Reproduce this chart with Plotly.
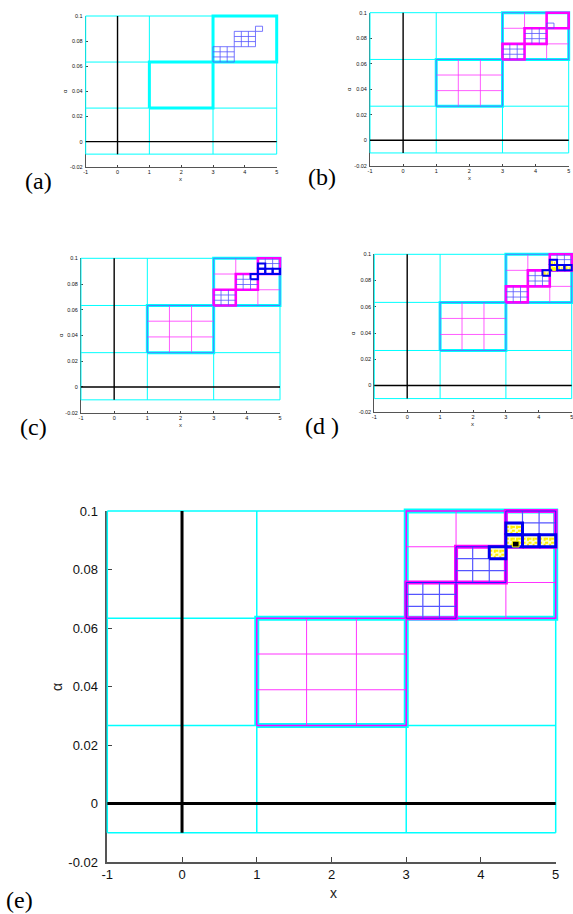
import plotly.graph_objects as go

# ---------------- data ----------------
x_edges_L0 = [-1, 1, 3, 5]
y_edges_L0 = [-0.01, 0.026667, 0.063333, 0.1]
refine_ratio = 3
L1_boxes = [[1.0, 3.0, 0.026667, 0.063333],
            [3.0, 5.0, 0.063333, 0.1]]
L2_boxes = [[3.0, 3.666667, 0.063333, 0.075556],
            [3.666667, 4.333333, 0.075556, 0.087778],
            [4.333333, 5.0, 0.087778, 0.1]]
flag_cells = [[4.333333, 4.555556, 0.087778, 0.091852]]
L3_boxes = [[4.111111, 4.333333, 0.083704, 0.087778],
            [4.333333, 4.555556, 0.087778, 0.091852],
            [4.333333, 4.555556, 0.091852, 0.095926],
            [4.555556, 4.777778, 0.087778, 0.091852],
            [4.777778, 5.0, 0.087778, 0.091852]]
L4_boxes = [[4.42, 4.51, 0.0877, 0.0897]]
x_ticks = [-1, 0, 1, 2, 3, 4, 5]
x_ticktext = ['-1', '0', '1', '2', '3', '4', '5']
y_ticks = [-0.02, 0, 0.02, 0.04, 0.06, 0.08, 0.1]
y_ticktext = ['-0.02', '0', '0.02', '0.04', '0.06', '0.08', '0.1']
x_range = [-1, 5]
y_range = [-0.02, 0.1]
panel_labels = ['(a)', '(b)', '(c)', '(d )', '(e)']
x_title = 'x'
y_title = 'α'

# ---------------- layout geometry (pixels) ----------------
W, H = 573, 914
boxes_px = [
    (85.7, 276.7, 16.0, 166.7),
    (370.0, 568.7, 12.7, 165.7),
    (81.0, 280.0, 258.3, 412.7),
    (374.3, 571.7, 254.3, 411.7),
    (107.3, 555.7, 511.0, 862.0),
]
label_pos = [(38, 181), (322, 177), (33, 427), (322, 426), (19, 900)]
xtitle_pos = [(180, 179), (469, 178), (180, 425), (472, 424), (333, 893)]
ytitle_pos = [(65, 91), (349, 89), (61, 335), (353, 333), (57, 687)]

panel_cfg = [
    dict(l1_inner=False, l1_overlay=None, l2=False, blue=[0, 1], flag=True, l3=False, yellow=False, l4=None),
    dict(l1_inner=True, l1_overlay='#4f7fff', l2=True, blue=[0, 1], flag=True, l3=False, yellow=False, l4=None),
    dict(l1_inner=True, l1_overlay='#4f7fff', l2=True, blue=[0, 1, 2], flag=False, l3=True, yellow=False, l4=None),
    dict(l1_inner=True, l1_overlay='#4f7fff', l2=True, blue=[0, 1, 2], flag=False, l3=True, yellow=True, l4='yellow'),
    dict(l1_inner=True, l1_overlay='#ff00ff', l2=True, blue=[0, 1, 2], flag=False, l3=True, yellow=True, l4='black'),
]

small = dict(l0=1.0, zero=1.4, l1=3.0, l1o=1.0, mag_in=0.8, l2=2.6, l2o=0, blue_in=0.8,
             l3=2.0, yel=1.0, tick_font=5.5, title_font=6, ticklen=2, axw=1, lab_font=24, pad=3)
large = dict(l0=1.5, zero=3.0, l1=5.0, l1o=1.5, mag_in=1.0, l2=4.0, l2o=1.0, blue_in=1.2,
             l3=3.0, yel=2.0, tick_font=13, title_font=14, ticklen=5, axw=1.5, lab_font=24, pad=5)


def rect(b):
    x0, x1, y0, y1 = b
    return ([x0, x1, x1, x0, x0], [y0, y0, y1, y1, y0])


def inner_lines(b, n):
    x0, x1, y0, y1 = b
    segs = []
    for k in range(1, n):
        xv = x0 + (x1 - x0) * k / n
        segs.append(([xv, xv], [y0, y1]))
        yv = y0 + (y1 - y0) * k / n
        segs.append(([x0, x1], [yv, yv]))
    return segs


def join(segs):
    xs, ys = [], []
    for sx, sy in segs:
        xs += list(sx) + [None]
        ys += list(sy) + [None]
    return xs, ys


fig = go.Figure()


def xk(n): return 'xaxis' if n == 1 else f'xaxis{n}'
def yk(n): return 'yaxis' if n == 1 else f'yaxis{n}'
def xr(n): return 'x' if n == 1 else f'x{n}'
def yr(n): return 'y' if n == 1 else f'y{n}'


def add(axn, segs, color, width, dash=None, fill=None, fillcolor=None):
    xs, ys = join(segs)
    fig.add_trace(go.Scatter(
        x=xs, y=ys, mode='lines', xaxis=xr(axn), yaxis=yr(axn),
        line=dict(color=color, width=width, dash=dash),
        fill=fill, fillcolor=fillcolor,
        hoverinfo='skip', showlegend=False, connectgaps=False))


layout = {}
annotations = []
for i, (L, R, T, B) in enumerate(boxes_px):
    st = large if i == 4 else small
    cfg = panel_cfg[i]
    a_n = 2 * i + 1
    b_n = 2 * i + 2
    tf = dict(family='Liberation Sans, Arial, sans-serif', size=st['tick_font'], color='#111')
    # visible axes (ticks, labels, axis lines)
    layout[xk(a_n)] = dict(domain=[L / W, min(R / W, 1.0)], range=x_range, anchor=yr(a_n),
                           tickmode='array', tickvals=x_ticks, ticktext=x_ticktext,
                           ticks='inside', ticklen=st['ticklen'], tickcolor='#444', tickwidth=1,
                           showline=True, linecolor='#555', linewidth=st['axw'], automargin=False,
                           ticklabeloverflow='allow',
                           showgrid=False, zeroline=False, tickfont=tf, fixedrange=True)
    layout[yk(a_n)] = dict(domain=[1 - B / H, 1 - T / H], range=y_range, anchor=xr(a_n),
                           tickmode='array', tickvals=y_ticks, ticktext=y_ticktext,
                           ticks='inside', ticklen=st['ticklen'], tickcolor='#444', tickwidth=1,
                           showline=True, linecolor='#555', linewidth=st['axw'], automargin=False,
                           ticklabeloverflow='allow',
                           showgrid=False, zeroline=False, tickfont=tf, fixedrange=True,
                           ticklabelstandoff=(5 if i == 4 else 1))
    fig.add_trace(go.Scatter(x=[None], y=[None], mode='lines', xaxis=xr(a_n), yaxis=yr(a_n),
                             hoverinfo='skip', showlegend=False))
    # drawing axes, padded so boundary lines are not clipped
    p = st['pad']
    sx = (R - L) / (x_range[1] - x_range[0])
    sy = (B - T) / (y_range[1] - y_range[0])
    dl, dr = max(L - p, 0.0), min(R + p, W)
    dt, db = max(T - p, 0.0), min(B + p, H)
    layout[xk(b_n)] = dict(domain=[dl / W, dr / W],
                           range=[x_range[0] - (L - dl) / sx, x_range[1] + (dr - R) / sx],
                           anchor=yr(b_n), visible=False, fixedrange=True, automargin=False)
    layout[yk(b_n)] = dict(domain=[1 - db / H, 1 - dt / H],
                           range=[y_range[0] - (db - B) / sy, y_range[1] + (T - dt) / sy],
                           anchor=xr(b_n), visible=False, fixedrange=True, automargin=False)

    # level 0 grid
    segs = []
    for xv in x_edges_L0:
        segs.append(([xv, xv], [y_edges_L0[0], y_edges_L0[-1]]))
    for yv in y_edges_L0:
        segs.append(([x_edges_L0[0], x_edges_L0[-1]], [yv, yv]))
    add(b_n, segs, '#00ffff', st['l0'])
    # zero lines
    add(b_n, [([0, 0], [y_edges_L0[0], y_edges_L0[-1]]),
              ([x_edges_L0[0], x_edges_L0[-1]], [0, 0])], '#000000', st['zero'])
    # level 1 patches
    add(b_n, [rect(b) for b in L1_boxes], '#00ffff', st['l1'])
    if cfg['l1_inner']:
        segs = []
        for b in L1_boxes:
            segs += inner_lines(b, refine_ratio)
        add(b_n, segs, '#ff33ff', st['mag_in'])
    if cfg['l1_overlay']:
        add(b_n, [rect(b) for b in L1_boxes], cfg['l1_overlay'], st['l1o'])
    # level 2 patches
    if cfg['l2']:
        add(b_n, [rect(b) for b in L2_boxes], '#ff00ff', st['l2'])
    segs = []
    for k in cfg['blue']:
        segs += inner_lines(L2_boxes[k], refine_ratio)
        if not cfg['l2']:
            segs.append(rect(L2_boxes[k]))
    if cfg['flag']:
        segs += [rect(b) for b in flag_cells]
    add(b_n, segs, '#5555ff', st['blue_in'])
    if cfg['l2'] and st['l2o'] > 0:
        add(b_n, [rect(b) for b in L2_boxes], '#2222ff', st['l2o'])
    # level 3 patches
    if cfg['yellow']:
        for b in L3_boxes:
            add(b_n, [rect(b)], 'rgba(0,0,0,0)', 0, fill='toself', fillcolor='#ffffc8')
        segs = []
        for b in L3_boxes:
            segs += inner_lines(b, refine_ratio)
        add(b_n, segs, '#ffee00', st['yel'], dash='dot')
    if cfg['l3']:
        add(b_n, [rect(b) for b in L3_boxes], '#0000ee', st['l3'])
    if cfg['l4'] == 'yellow':
        for b in L4_boxes:
            add(b_n, [rect(b)], '#ffff00', 1, fill='toself', fillcolor='#ffff00')
    elif cfg['l4'] == 'black':
        for b in L4_boxes:
            add(b_n, [rect(b)], '#ffff00', 1, fill='toself', fillcolor='#000000')

    # text
    lx, ly = label_pos[i]
    annotations.append(dict(text=panel_labels[i], x=lx / W, y=1 - ly / H, xref='paper', yref='paper',
                            showarrow=False, xanchor='center', yanchor='middle',
                            font=dict(family='Liberation Serif, Times New Roman, serif', size=st['lab_font'], color='black')))
    tx, ty = xtitle_pos[i]
    annotations.append(dict(text=x_title, x=tx / W, y=1 - ty / H, xref='paper', yref='paper',
                            showarrow=False, xanchor='center', yanchor='middle',
                            font=dict(family='Liberation Sans, Arial, sans-serif', size=st['title_font'], color='#222')))
    ax, ay = ytitle_pos[i]
    annotations.append(dict(text=y_title, x=ax / W, y=1 - ay / H, xref='paper', yref='paper',
                            showarrow=False, xanchor='center', yanchor='middle', textangle=-90,
                            font=dict(family='Liberation Sans, Arial, sans-serif', size=st['title_font'], color='#222')))

fig.update_layout(**layout)
fig.update_layout(width=W, height=H, autosize=False,
                  margin=dict(l=0, r=0, t=0, b=0, pad=0, autoexpand=False),
                  paper_bgcolor='white', plot_bgcolor='rgba(0,0,0,0)',
                  showlegend=False, annotations=annotations)

fig.write_html('out.html', config={'displayModeBar': False})
